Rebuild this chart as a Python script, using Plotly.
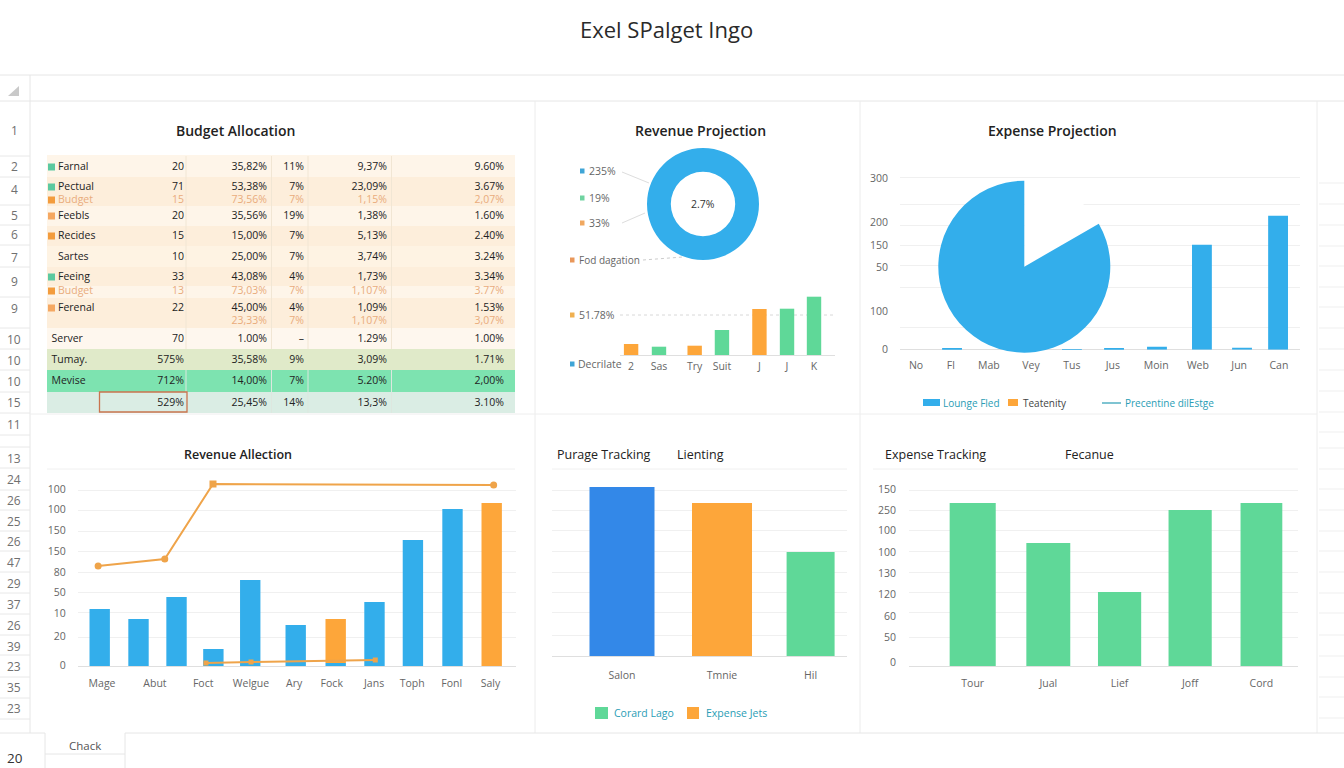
import plotly.graph_objects as go

# ---------- DATA ----------
page_title = "Exel SPalget Ingo"

table_labels = ["Farnal", "Pectual", "Budget", "Feebls", "Recides", "Sartes", "Feeing", "Budget",
                "Ferenal", "", "Server", "Tumay.", "Mevise", ""]
table_col1 = ["20", "71", "15", "20", "15", "10", "33", "13", "22", "", "70", "575%", "712%", "529%"]
table_col2 = ["35,82%", "53,38%", "73,56%", "35,56%", "15,00%", "25,00%", "43,08%", "73,03%",
              "45,00%", "23,33%", "1.00%", "35,58%", "14,00%", "25,45%"]
table_col3 = ["11%", "7%", "7%", "19%", "7%", "7%", "4%", "7%", "4%", "7%", "–", "9%", "7%", "14%"]
table_col4 = ["9,37%", "23,09%", "1,15%", "1,38%", "5,13%", "3,74%", "1,73%", "1,107%",
              "1,09%", "1,107%", "1.29%", "3,09%", "5.20%", "13,3%"]
table_col5 = ["9.60%", "3.67%", "2,07%", "1.60%", "2.40%", "3.24%", "3.34%", "3.77%",
              "1.53%", "3,07%", "1.00%", "1.71%", "2,00%", "3.10%"]

row_numbers_top = ["1", "2", "4", "5", "6", "7", "9", "9", "10", "10", "10", "15", "11"]
row_numbers_bottom = ["13", "24", "26", "25", "26", "47", "29", "37", "26", "39", "23", "35", "23"]

donut_values = [100]
donut_labels = ["2.7%"]
donut_side = ["235%", "19%", "33%", "Fod dagation", "51.78%", "Decrilate"]

rev_small_labels = ["2", "Sas", "Try", "Suit", "J", "J", "K"]
rev_small_values = [11, 8.3, 9.3, 25, 46, 46.3, 58.3]
rev_small_x = [0, 0.93, 2.12, 3.03, 4.28, 5.2, 6.1]

pie_slices = [60, 300]
exp_labels = ["No", "Fl", "Mab", "Vey", "Tus", "Jus", "Moin", "Web", "Jun", "Can"]
exp_label_x = [0, 0.86, 1.8, 2.84, 3.85, 4.86, 5.93, 6.96, 7.98, 8.96]
exp_x = [0.89, 3.85, 4.89, 5.95, 7.06, 8.05, 8.94]
exp_values = [1.5, 0.5, 1, 3, 105, 2, 134]
exp_tick_labels = ["300", "200", "150", "50", "100", "0"]
exp_tick_vals = [171, 127, 104, 82, 38, 0]
exp_grid_vals = [172, 145, 124, 104, 84, 62, 22, 0]

ra_labels = ["Mage", "Abut", "Foct", "Welgue", "Ary", "Fock", "Jans", "Toph", "Fonl", "Saly"]
ra_label_x = [0.06, 1.41, 2.64, 3.86, 4.96, 5.92, 7.0, 7.97, 8.98, 9.97]
ra_x = [0, 0.99, 1.96, 2.9, 3.84, 5.0, 6.02, 7.01, 7.99, 9.0]
ra_blue = [57, 47, 69, 17, 86, 41, 3, 64, 126, 157]
ra_orange_x = [6.02, 10.0]
ra_orange = [44, 163]
ra_orange_base = [3, 0]
ra_line1_x = [-0.04, 1.66, 2.89, 10.05]
ra_line1_y = [100, 107, 182, 181]
ra_line2_x = [2.71, 3.86, 7.03]
ra_line2_y = [3, 4, 6]
ra_tick_labels = ["100", "100", "150", "150", "80", "50", "10", "20", "0"]
ra_tick_vals = [177, 157, 136, 115, 94, 74, 53, 30, 1]
ra_grid_vals = [176, 156, 135, 115, 94, 74, 54, 29, 0]

pt_labels = ["Salon", "Tmnie", "Hil"]
pt_x = [0, 1, 1.886]
pt_values = [169, 153, 104]
pt_grid_vals = [166, 146, 126, 105, 84, 64, 44, 21, 0]

et_labels = ["Tour", "Jual", "Lief", "Joff", "Cord"]
et_x = [0, 1.05, 2.04, 3.02, 4.01]
et_values = [163, 123, 74, 156, 163]
et_tick_labels = ["150", "250", "100", "100", "130", "120", "60", "50", "0"]
et_tick_vals = [177, 156, 136, 114, 93, 72, 50, 29, 4]
et_grid_vals = [176, 156, 136, 115, 94, 74, 54, 29, 0]

# ---------- STYLE / LAYOUT CONSTANTS ----------
W, H = 1344, 768
FONT = "Open Sans"
BLUE, ORANGE, GREEN, DEEP = "#33AEEB", "#FDA63A", "#5FD898", "#3388E8"
LINE_OR = "#EFA44A"
GRID, CHROME = "#F0F0F0", "#E6E6E6"
TICK, DARK, TEAL = "#666666", "#222222", "#2A9DB5"
FADED = "#E9AC7C"

row_y = [167, 187, 200, 216, 236, 257, 277, 291, 308, 321, 339, 360, 381, 403]
row_colors = [DARK, DARK, FADED, DARK, DARK, DARK, DARK, FADED, DARK, FADED, DARK, DARK, DARK, DARK]
row_swatch = ["#5CC9A0", "#5CC9A0", "#F39C3D", "#F5A862", "#F39C3D", None, "#5CC9A0", "#F39C3D",
              "#F5A862", None, None, None, None, None]
label_x = [58] * 10 + [51.5, 51.5, 51.5, 51.5]
col_right = [184, 267, 304, 387, 504]
band_edges = [155, 177, 206, 226, 246, 267, 286, 298, 328, 349, 370, 392, 413]
band_colors = ["#FEF5E9", "#FDEEDB", "#FEF5E9", "#FDEEDB", "#FEF3E3", "#FDEEDB", "#FEF5E9",
               "#FDEEDB", "#FEF7EE", "#E0EAC9", "#7DE3B0", "#DAEDE4"]
row_num_top_y = [131, 167, 189, 215, 235, 257, 281, 308, 339, 360, 381, 402, 424]
row_num_bottom_y = [458, 479, 500, 521, 541, 562, 583, 604, 625, 646, 666, 687, 708]
row_div_y = [156, 177, 205, 225, 245, 267, 297, 328, 349, 370, 392, 413, 435, 447, 468, 490, 510, 531,
             551, 572, 593, 614, 635, 655, 677, 698, 719]
right_div_y = [183, 204, 225, 246, 266, 287, 307, 328, 349, 370, 391, 412, 432, 448, 469, 489, 510, 531,
               551, 572, 593, 613, 635, 656, 677, 697, 718]

fig = go.Figure()
shapes, annots = [], []
layout_axes = {}


def px(x):
    return x / W


def py(y):
    return 1 - y / H


def line(x0, y0, x1, y1, color=CHROME, width=1, dash="solid", layer="below"):
    shapes.append(dict(type="line", xref="paper", yref="paper", x0=px(x0), x1=px(x1), y0=py(y0), y1=py(y1),
                       line=dict(color=color, width=width, dash=dash), layer=layer))


def rect(x0, y0, x1, y1, fill, layer="below", lc=None, lw=0):
    shapes.append(dict(type="rect", xref="paper", yref="paper", x0=px(x0), x1=px(x1), y0=py(y0), y1=py(y1),
                       fillcolor=fill, line=dict(color=lc or fill, width=lw), layer=layer))


def txt(x, y, s, size=10.5, color=TICK, anchor="left", weight=400):
    annots.append(dict(xref="paper", yref="paper", x=px(x), y=py(y), text=s, showarrow=False, xanchor=anchor,
                       yanchor="middle", font=dict(family=FONT, size=size, color=color, weight=weight),
                       borderpad=0, borderwidth=0))


def axes(n, l, r, t, b, xr, yr, xticks=None, xtext=None, yticks=None, ytext=None, grid=None, xgap=6, ygap=8,
         zero=True):
    suffix = "" if n == 1 else str(n)
    xa = dict(domain=[px(l), px(r)], range=xr, anchor="y" + suffix, showgrid=False, zeroline=False, showline=False,
              fixedrange=True, automargin=False, showticklabels=xticks is not None,
              tickmode="array", tickvals=xticks or [], ticktext=xtext or [],
              ticks="outside" if xticks else "", ticklen=xgap, tickcolor="rgba(0,0,0,0)",
              tickfont=dict(family=FONT, size=10.5, color=TICK), tickangle=0)
    ya = dict(domain=[py(b), py(t)], range=yr, anchor="x" + suffix, showgrid=False, zeroline=zero,
              zerolinecolor="#DFDFDF", zerolinewidth=1, showline=False, fixedrange=True, automargin=False,
              showticklabels=yticks is not None, tickmode="array", tickvals=yticks or [], ticktext=ytext or [],
              ticks="outside" if yticks else "", ticklen=ygap, tickcolor="rgba(0,0,0,0)",
              tickfont=dict(family=FONT, size=10.5, color=TICK))
    if grid:
        ya["minor"] = dict(tickmode="array", tickvals=grid, showgrid=True, gridcolor=GRID, gridwidth=1, ticks="")
    layout_axes["xaxis" + suffix] = xa
    layout_axes["yaxis" + suffix] = ya
    return "x" + suffix, "y" + suffix


# ---------- SHEET CHROME ----------
line(0, 75, W, 75)
line(0, 101, W, 101)
line(30, 75, 30, 733)
line(535, 101, 535, 733, "#ECECEC")
line(860, 101, 860, 733, "#ECECEC")
line(1317, 101, 1317, 733, "#ECECEC")
line(30, 414, 1317, 414, "#EEEEEE")
line(0, 733, 45, 733)
line(125, 733, W, 733)
line(45, 733, 45, H)
line(125, 733, 125, H)
line(45, 754, 125, 754)
shapes.append(dict(type="path", xref="paper", yref="paper",
                   path=f"M {px(8)} {py(96)} L {px(19)} {py(96)} L {px(19)} {py(86)} Z",
                   fillcolor="#C9C9C9", line=dict(width=0), layer="below"))
for y in row_div_y:
    line(0, y, 30, y, "#E8E8E8")
for y in right_div_y:
    line(1319, y, W, y, "#EFEFEF")
line(47, 469, 515, 469, GRID)
line(552, 469, 847, 469, GRID)
line(873, 469, 1298, 469, GRID)

for s, y in zip(row_numbers_top + row_numbers_bottom, row_num_top_y + row_num_bottom_y):
    txt(14, y, s, 12, "#707070", "center")
txt(15, 758, "20", 13.5, "#333333", "center")
txt(85, 745, "Chack", 11.5, "#555555", "center")
txt(666.5, 29, page_title, 22, "#2A2A2A", "center")

# ---------- TITLES ----------
txt(236, 131, "Budget Allocation", 14, DARK, "center", 600)
txt(700, 131, "Revenue Projection", 14, DARK, "center", 600)
txt(1052, 131, "Expense Projection", 14, DARK, "center", 600)
txt(237.5, 454, "Revenue Allection", 12.5, DARK, "center", 600)
txt(557, 454, "Purage Tracking", 12.5, DARK, "left", 500)
txt(677, 454, "Lienting", 12.5, DARK, "left", 500)
txt(885, 454, "Expense Tracking", 12.5, DARK, "left", 500)
txt(1065, 454, "Fecanue", 12.5, DARK, "left", 500)

# ---------- TABLE ----------
xa, ya = axes(1, 47, 515, 155, 413, [47, 515], [413, 155], zero=False)
band_mid = [(a + b) / 2 for a, b in zip(band_edges[:-1], band_edges[1:])]
band_h = [b - a for a, b in zip(band_edges[:-1], band_edges[1:])]
fig.add_trace(go.Bar(y=band_mid, x=[468] * len(band_mid), base=[47] * len(band_mid), width=band_h, orientation="h",
                     marker=dict(color=band_colors, line=dict(width=0)), xaxis=xa, yaxis=ya, hoverinfo="skip",
                     showlegend=False))
sw = [(y, c) for y, c in zip(row_y, row_swatch) if c]
fig.add_trace(go.Scatter(x=[51.5] * len(sw), y=[s[0] for s in sw], mode="markers", xaxis=xa, yaxis=ya,
                         marker=dict(symbol="square", size=7, color=[s[1] for s in sw]), hoverinfo="skip",
                         showlegend=False))
fig.add_trace(go.Scatter(x=label_x, y=row_y, text=table_labels, mode="text", textposition="middle right",
                         textfont=dict(family=FONT, size=10.5, color=row_colors), xaxis=xa, yaxis=ya,
                         hoverinfo="skip", showlegend=False, cliponaxis=False))
for column, right in zip([table_col1, table_col2, table_col3, table_col4, table_col5], col_right):
    fig.add_trace(go.Scatter(x=[right] * len(row_y), y=row_y, text=column, mode="text", textposition="middle left",
                             textfont=dict(family=FONT, size=10.5, color=row_colors), xaxis=xa, yaxis=ya,
                             hoverinfo="skip", showlegend=False, cliponaxis=False))
for x in [186, 271.5, 308, 391.5]:
    line(x, 156, x, 349, "#F1E6D4", 1, layer="above")
    line(x, 370, x, 413, "#DDE7DF", 1, layer="above")
rect(99.5, 392, 187, 412, "rgba(0,0,0,0)", "above", "#C9744E", 1.3)

# ---------- REVENUE PROJECTION ----------
fig.add_trace(go.Pie(values=donut_values, labels=donut_labels, hole=0.575, sort=False, textinfo="none",
                     hoverinfo="skip", showlegend=False, marker=dict(colors=[BLUE], line=dict(width=0)),
                     domain=dict(x=[px(647), px(759)], y=[py(260), py(148)])))
txt(703, 204, donut_labels[0], 10.5, "#333333", "center")
for y, s, c in zip([171, 198, 223], donut_side[:3], ["#3FA5D6", "#6FD3A0", "#F0A860"]):
    rect(580, y - 2.5, 584.5, y + 2.5, c)
    txt(589, y, s, 10.5, TICK)
line(622, 172, 649, 183, "#DDDDDD")
line(622, 223, 645, 213, "#DDDDDD")
rect(570, 257.5, 574.5, 262.5, "#E9975A")
txt(579, 260, donut_side[3], 10, TICK)
line(643, 260, 683, 257, "#CCCCCC", 1, "dot")
rect(570, 312.5, 574.5, 317.5, "#F0B050")
txt(579, 315, donut_side[4], 10.5, TICK)
line(620, 315, 835, 315, "#D8D8D8", 1, "dot")
rect(570, 361.5, 574.5, 366.5, "#3FA5D6")
txt(578, 364, donut_side[5], 10.5, TICK)

xa, ya = axes(2, 620, 835, 290, 355, [-0.37, 6.8], [0, 65], xticks=rev_small_x, xtext=rev_small_labels, xgap=1)
fig.add_trace(go.Bar(x=rev_small_x, y=rev_small_values, width=0.48,
                     marker=dict(color=[ORANGE, GREEN, ORANGE, GREEN, ORANGE, GREEN, GREEN], line=dict(width=0)),
                     xaxis=xa, yaxis=ya, hoverinfo="skip", showlegend=False))

# ---------- EXPENSE PROJECTION ----------
xa, ya = axes(3, 900, 1300, 170, 349.7, [(900 - 916) / 40.5, (1300 - 916) / 40.5], [0, 179.7],
              xticks=exp_label_x, xtext=exp_labels, yticks=exp_tick_vals, ytext=exp_tick_labels,
              grid=exp_grid_vals, xgap=6, ygap=9)
fig.add_trace(go.Bar(x=exp_x, y=exp_values, width=0.49, marker=dict(color=BLUE, line=dict(width=0)),
                     xaxis=xa, yaxis=ya, hoverinfo="skip", showlegend=False))
fig.add_trace(go.Pie(values=pie_slices, labels=["", "Lounge Fled"], sort=False, direction="clockwise", rotation=0,
                     textinfo="none", hoverinfo="skip", showlegend=False,
                     marker=dict(colors=["#FFFFFF", BLUE], line=dict(width=0)),
                     domain=dict(x=[px(938.3), px(1110.3)], y=[py(352.7), py(180.7)])))
rect(923, 399, 940, 406, BLUE)
txt(943, 403, "Lounge Fled", 10, TEAL)
rect(1008, 399, 1018, 406, ORANGE)
txt(1023, 403, "Teatenity", 10, "#444444")
line(1102, 403, 1121, 403, TEAL, 1.2)
txt(1125, 403, "Precentine dilEstge", 10, TEAL)

# ---------- REVENUE ALLECTION ----------
U = 39.2
xa, ya = axes(4, 77.8, 515.5, 466, 666, [(77.8 - 99.7) / U, (515.5 - 99.7) / U], [0, 200],
              xticks=ra_label_x, xtext=ra_labels, yticks=ra_tick_vals, ytext=ra_tick_labels,
              grid=ra_grid_vals, xgap=7, ygap=9)
fig.add_trace(go.Bar(x=ra_x, y=ra_blue, width=0.52, marker=dict(color=BLUE, line=dict(width=0)), xaxis=xa, yaxis=ya,
                     hoverinfo="skip", showlegend=False))
fig.add_trace(go.Bar(x=ra_orange_x, y=ra_orange, base=ra_orange_base, width=0.52,
                     marker=dict(color=ORANGE, line=dict(width=0)), xaxis=xa, yaxis=ya, hoverinfo="skip",
                     showlegend=False))
fig.add_trace(go.Scatter(x=ra_line1_x, y=ra_line1_y, mode="lines+markers", xaxis=xa, yaxis=ya,
                         line=dict(color=LINE_OR, width=2), marker=dict(size=7, color=LINE_OR,
                         symbol=["circle", "circle", "square", "circle"]), hoverinfo="skip", showlegend=False))
fig.add_trace(go.Scatter(x=ra_line2_x, y=ra_line2_y, mode="lines+markers", xaxis=xa, yaxis=ya,
                         line=dict(color=LINE_OR, width=2), marker=dict(size=5, color=LINE_OR, symbol="square"),
                         hoverinfo="skip", showlegend=False))

# ---------- PURAGE TRACKING ----------
xa, ya = axes(5, 552, 847, 469, 656, [-0.7, 2.25], [0, 187], xticks=pt_x, xtext=pt_labels, grid=pt_grid_vals, xgap=9)
fig.add_trace(go.Bar(x=pt_x, y=pt_values, width=[0.65, 0.6, 0.48],
                     marker=dict(color=[DEEP, ORANGE, GREEN], line=dict(width=0)), xaxis=xa, yaxis=ya,
                     hoverinfo="skip", showlegend=False))
rect(595, 707, 608, 719, GREEN)
txt(614, 713, "Corard Lago", 10.5, TEAL)
rect(687, 707, 699, 719, ORANGE)
txt(706, 713, "Expense Jets", 10.5, TEAL)

# ---------- EXPENSE TRACKING ----------
xa, ya = axes(6, 909, 1298, 469, 666, [(909 - 972.7) / 72, (1298 - 972.7) / 72], [0, 197],
              xticks=et_x, xtext=et_labels, yticks=et_tick_vals, ytext=et_tick_labels, grid=et_grid_vals,
              xgap=7, ygap=10)
fig.add_trace(go.Bar(x=et_x, y=et_values, width=[0.64, 0.61, 0.6, 0.6, 0.58],
                     marker=dict(color=GREEN, line=dict(width=0)), xaxis=xa, yaxis=ya, hoverinfo="skip",
                     showlegend=False))

fig.update_layout(width=W, height=H, autosize=False, margin=dict(l=0, r=0, t=0, b=0, pad=0),
                  paper_bgcolor="white", plot_bgcolor="rgba(0,0,0,0)", showlegend=False, barmode="overlay",
                  font=dict(family=FONT), shapes=shapes, annotations=annots, **layout_axes)

fig.write_html("out.html", config=dict(displayModeBar=False),
               post_script="document.body.style.margin='0';document.body.style.overflow='hidden';")
